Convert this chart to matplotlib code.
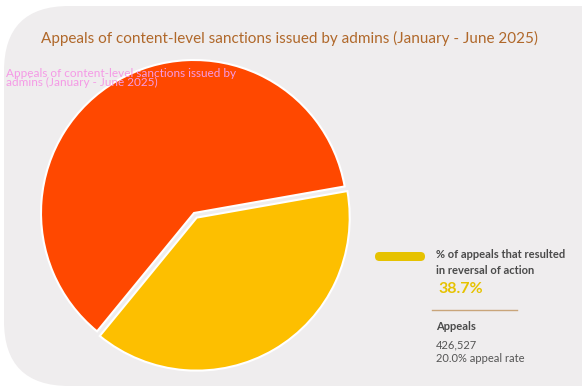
import matplotlib.pyplot as plt
from matplotlib.patches import FancyBboxPatch

labels = ['Upheld', 'Reversed']
shares = [61.3, 38.7]
colors = ['#ff4800', '#fdbf00']
title = 'Appeals of content-level sanctions issued by admins (January - June 2025)'
reversal_rate = '38.7%'
appeals = '426,527'
appeal_rate = '20.0% appeal rate'

plt.rcParams['font.family'] = ['Lato', 'DejaVu Sans']

fig = plt.figure(figsize=(5.82, 3.92), dpi=100)
fig.patch.set_facecolor('white')

# rounded panel behind everything
bg = fig.add_axes([0, 0, 1, 1], zorder=0)
bg.set_xlim(0, 582)
bg.set_ylim(392, 0)
bg.axis('off')
bg.add_patch(FancyBboxPatch((4, 6), 640, 380, boxstyle='round,pad=0,rounding_size=65',
                            fc='#efedee', ec='none'))

fig.text(0.497, 1 - 38 / 392, title, ha='center', va='center', fontsize=11, color='#b0682a')
fig.text(0.01, 1 - 78 / 392, 'Appeals of content-level sanctions issued by\nadmins (January - June 2025)',
         ha='left', va='center', fontsize=8.5, color='#f59ae6', linespacing=0.85)

r = 153
ax = fig.add_axes([(194 - r) / 582, 1 - (213 + r) / 392, 2 * r / 582, 2 * r / 392], zorder=1)
ax.pie(shares, colors=colors, startangle=10, explode=[0, 0.035],
       wedgeprops=dict(edgecolor='white', linewidth=1.5))
ax.set_xlim(-1, 1)
ax.set_ylim(-1, 1)
ax.set_aspect('auto')

# legend side
bg.add_patch(FancyBboxPatch((375, 252), 50, 9, boxstyle='round,pad=0,rounding_size=4.5',
                            fc='#e6c200', ec='none', zorder=3))
bg.text(436, 254, '% of appeals that resulted', ha='left', va='center',
        fontsize=8, fontweight='bold', color='#4a4a4a')
bg.text(436, 271, 'in reversal of action', ha='left', va='center',
        fontsize=8, fontweight='bold', color='#4a4a4a')
bg.text(438, 289, reversal_rate, ha='left', va='center', fontsize=11.5, fontweight='bold',
        color='#e6c200')
bg.plot([432, 517], [310, 310], color='#c9a57a', lw=1)
bg.text(436, 326, 'Appeals', ha='left', va='center', fontsize=8, fontweight='bold', color='#4a4a4a')
bg.text(436, 345, appeals, ha='left', va='center', fontsize=8, color='#555555')
bg.text(436, 358, appeal_rate, ha='left', va='center', fontsize=8, color='#555555')

fig.savefig('out.png', dpi=100)
